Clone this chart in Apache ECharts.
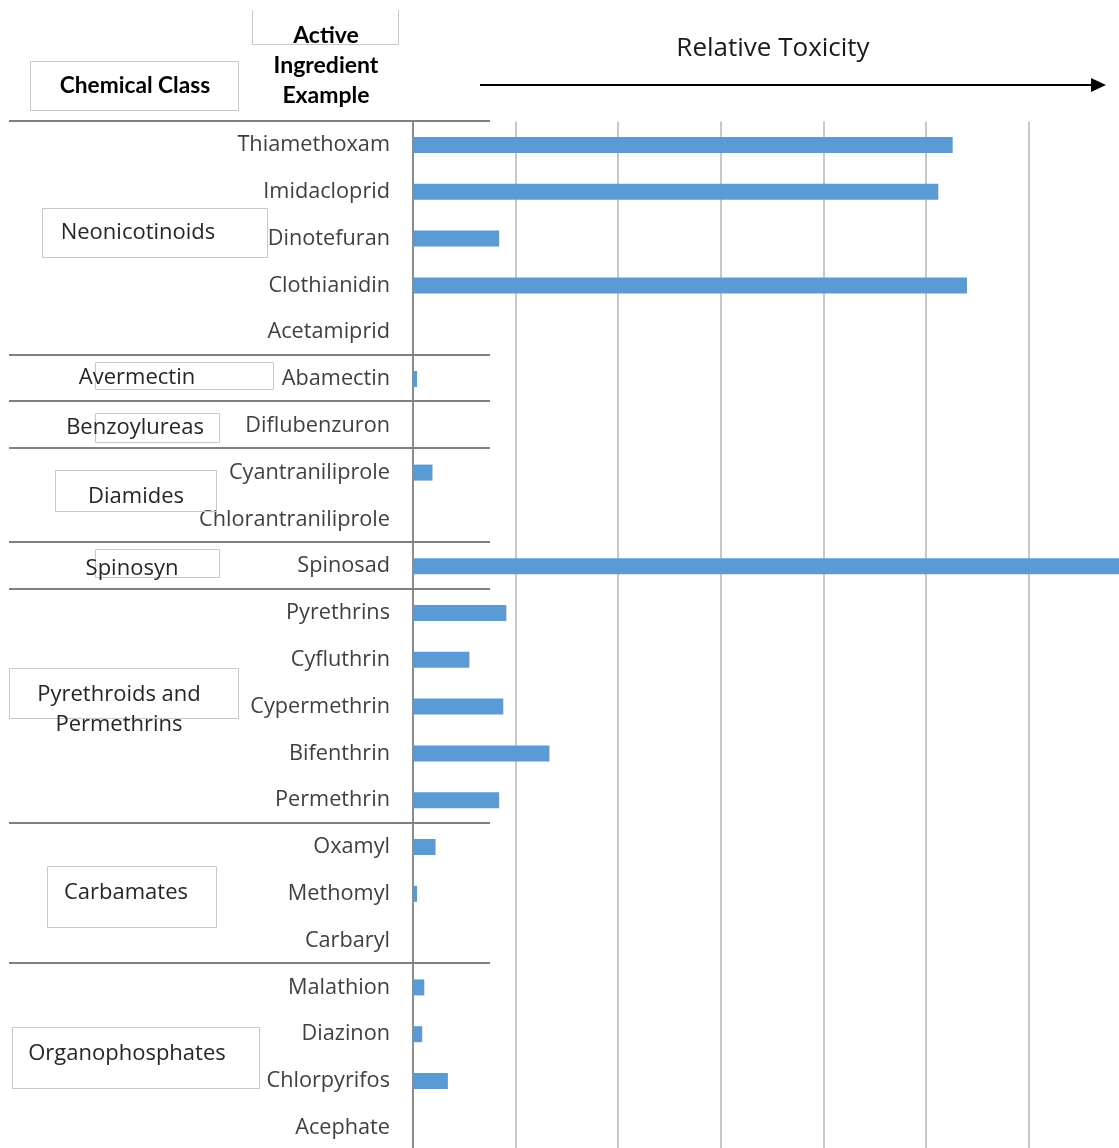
<!DOCTYPE html>
<html>
<head>
<meta charset="utf-8">
<script src="https://cdn.jsdelivr.net/npm/echarts@6/dist/echarts.min.js"></script>
<style>
html,body{margin:0;padding:0;background:#fff;overflow:hidden;width:1119px;height:1148px;}
#chart{width:1140px;height:1160px;}
</style>
</head>
<body>
<div id="chart"></div>
<script>
// ---- data ----
const categories = ['Thiamethoxam','Imidacloprid','Dinotefuran','Clothianidin','Acetamiprid',
  'Abamectin','Diflubenzuron','Cyantraniliprole','Chlorantraniliprole','Spinosad',
  'Pyrethrins','Cyfluthrin','Cypermethrin','Bifenthrin','Permethrin',
  'Oxamyl','Methomyl','Carbaryl','Malathion','Diazinon','Chlorpyrifos','Acephate'];
const toxicity = [5.26, 5.12, 0.84, 5.40, 0, 0.04, 0, 0.19, 0, 7.0,
  0.91, 0.55, 0.88, 1.33, 0.84, 0.22, 0.04, 0, 0.11, 0.09, 0.34, 0];
const classNames = ['Neonicotinoids','Avermectin','Benzoylureas','Diamides','Spinosyn',
  'Pyrethroids and\nPermethrins','Carbamates','Organophosphates'];
const classSizes = [5, 1, 1, 2, 1, 5, 3, 4];
const headerClass = 'Chemical Class';
const headerIngredient = 'Active\nIngredient\nExample';
const axisTitle = 'Relative Toxicity';

// ---- layout (annotation boxes; not data) ----
const classBoxes = [
  {x:42, y:208, w:225, h:49, tx:138, ty:233},
  {x:95, y:362, w:178, h:27, tx:137, ty:378},
  {x:95, y:413, w:124, h:29, tx:135, ty:428},
  {x:55, y:470, w:161, h:41, tx:136, ty:497},
  {x:95, y:549, w:124, h:28, tx:132, ty:569},
  {x:9,  y:668, w:229, h:50, tx:119, ty:710},
  {x:47, y:866, w:169, h:61, tx:126, ty:893},
  {x:12, y:1027, w:247, h:61, tx:127, ty:1054}
];

const FONT = '"Open Sans", "Noto Sans", sans-serif';
const chart = echarts.init(document.getElementById('chart'), null, {renderer:'canvas'});
const band = 46.8, unit = 102.6;

chart.setOption({
  animation: false,
  backgroundColor: '#ffffff',
  grid: {left: 413, top: 121.6, width: unit * 7, height: band * categories.length, containLabel: false},
  xAxis: {
    type: 'value', min: 0, max: 7, interval: 1,
    axisLine: {show: false}, axisTick: {show: false}, axisLabel: {show: false},
    splitLine: {show: true, lineStyle: {color: '#c8c8c8', width: 2}}
  },
  yAxis: {
    type: 'category', data: categories, inverse: true,
    axisLine: {show: true, lineStyle: {color: '#8c8c8c', width: 2}},
    axisTick: {show: false},
    axisLabel: {fontFamily: FONT, fontSize: 21.7, color: '#404040', margin: 23, padding: [4, 0, 0, 0]}
  },
  series: [{
    type: 'bar', data: toxicity, barWidth: 16,
    itemStyle: {color: '#5B9BD5'}, silent: true
  }]
});

// separators computed from category positions
const centers = categories.map(c => chart.convertToPixel({yAxisIndex: 0}, c));
const bounds = [centers[0] - band / 2];
let cum = 0;
for (let i = 0; i < classSizes.length - 1; i++) {
  cum += classSizes[i];
  bounds.push((centers[cum - 1] + centers[cum]) / 2);
}
const graphics = [];
bounds.forEach(y => {
  graphics.push({type: 'line', z: 10, shape: {x1: 9, y1: Math.round(y) - 1, x2: 490, y2: Math.round(y) - 1},
    style: {stroke: '#808080', lineWidth: 2}});
});
classNames.forEach((name, i) => {
  const b = classBoxes[i];
  graphics.push({type: 'rect', z: 5, shape: {x: b.x + 0.5, y: b.y + 0.5, width: b.w, height: b.h},
    style: {fill: 'rgba(0,0,0,0)', stroke: '#c8c8c8', lineWidth: 1}});
  graphics.push({type: 'text', z: 11, x: b.tx, y: b.ty,
    style: {text: name, fill: '#262626', font: '22px ' + FONT, textAlign: 'center', textVerticalAlign: 'middle', lineHeight: 30}});
});
// header boxes
graphics.push({type: 'rect', z: 5, shape: {x: 30.5, y: 61.5, width: 208, height: 49},
  style: {fill: 'rgba(0,0,0,0)', stroke: '#c8c8c8', lineWidth: 1}});
graphics.push({type: 'text', z: 11, x: 135, y: 86,
  style: {text: headerClass, fill: '#000', font: 'bold 22.7px "Lato", sans-serif', textAlign: 'center', textVerticalAlign: 'middle'}});
graphics.push({type: 'polyline', z: 5, shape: {points: [[252.5, 10], [252.5, 44.5], [398.5, 44.5], [398.5, 10]]},
  style: {fill: null, stroke: '#c8c8c8', lineWidth: 1}});
graphics.push({type: 'text', z: 11, x: 326, y: 66,
  style: {text: headerIngredient, fill: '#000', font: 'bold 23px "Lato", sans-serif', textAlign: 'center', textVerticalAlign: 'middle', lineHeight: 30}});
// axis title + arrow
graphics.push({type: 'text', z: 11, x: 773, y: 49,
  style: {text: axisTitle, fill: '#1a1a1a', font: '26px ' + FONT, textAlign: 'center', textVerticalAlign: 'middle'}});
graphics.push({type: 'line', z: 11, shape: {x1: 480, y1: 85, x2: 1094, y2: 85}, style: {stroke: '#000', lineWidth: 2}});
graphics.push({type: 'polygon', z: 11, shape: {points: [[1091, 78], [1106, 85], [1091, 92]]}, style: {fill: '#000'}});

chart.setOption({graphic: graphics});
</script>
</body>
</html>
